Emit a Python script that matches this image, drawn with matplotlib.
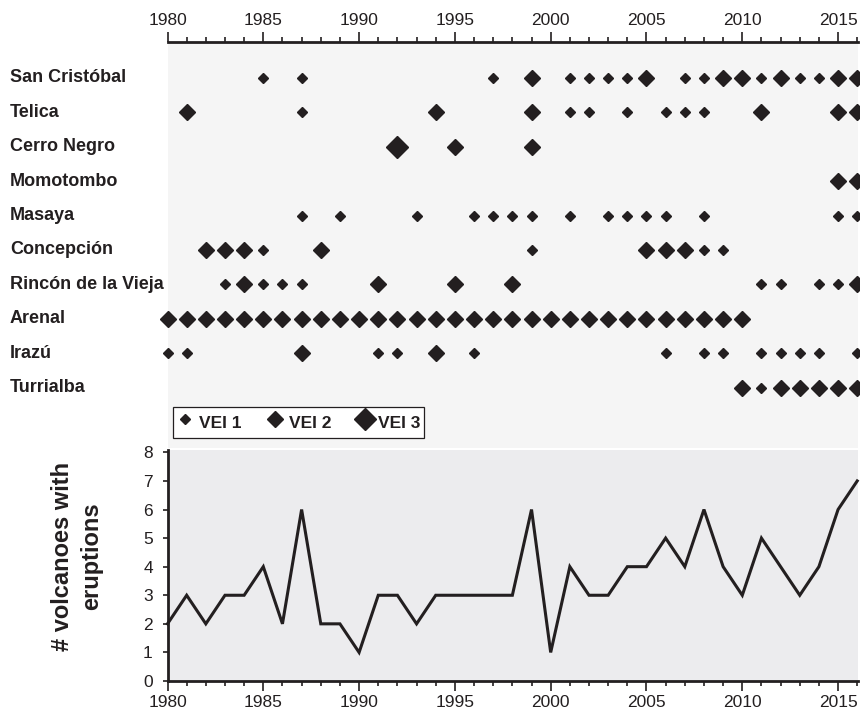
import matplotlib
matplotlib.use("Agg")
import matplotlib.pyplot as plt
from matplotlib.lines import Line2D
from matplotlib.ticker import MultipleLocator
from matplotlib.transforms import blended_transform_factory

plt.rcParams['font.family'] = ['Liberation Sans', 'DejaVu Sans']

INK = "#231f20"

# eruption years per volcano, split by VEI
volcanoes = ["San Cristóbal", "Telica", "Cerro Negro", "Momotombo", "Masaya",
             "Concepción", "Rincón de la Vieja", "Arenal", "Irazú", "Turrialba"]

vei1 = {
    "San Cristóbal": [1985, 1987, 1997, 2001, 2002, 2003, 2004, 2007, 2008, 2011, 2013, 2014],
    "Telica": [1987, 2001, 2002, 2004, 2006, 2007, 2008],
    "Cerro Negro": [],
    "Momotombo": [],
    "Masaya": [1987, 1989, 1993, 1996, 1997, 1998, 1999, 2001, 2003, 2004, 2005, 2006,
               2008, 2015, 2016],
    "Concepción": [1985, 1999, 2008, 2009],
    "Rincón de la Vieja": [1983, 1985, 1986, 1987, 2011, 2012, 2014, 2015],
    "Arenal": [],
    "Irazú": [1980, 1981, 1991, 1992, 1996, 2006, 2008, 2009, 2011, 2012, 2013, 2014, 2016],
    "Turrialba": [2011],
}
vei2 = {
    "San Cristóbal": [1999, 2005, 2009, 2010, 2012, 2015, 2016],
    "Telica": [1981, 1994, 1999, 2011, 2015, 2016],
    "Cerro Negro": [1995, 1999],
    "Momotombo": [2015, 2016],
    "Masaya": [],
    "Concepción": [1982, 1983, 1984, 1988, 2005, 2006, 2007],
    "Rincón de la Vieja": [1984, 1991, 1995, 1998, 2016],
    "Arenal": list(range(1980, 2011)),
    "Irazú": [1987, 1994],
    "Turrialba": [2010, 2012, 2013, 2014, 2015, 2016],
}
vei3 = {
    "Cerro Negro": [1992],
}

# number of volcanoes erupting each year
years = list(range(1980, 2017))
n_active = [2, 3, 2, 3, 3, 4, 2, 6, 2, 2, 1, 3, 3, 2, 3, 3, 3, 3, 3, 6, 1, 4, 3, 3,
            4, 4, 5, 4, 6, 4, 3, 5, 4, 3, 4, 6, 7]

sizes = {1: 5.6, 2: 8.2, 3: 11.2}

fig = plt.figure(figsize=(8.6, 7.11), dpi=100)
left = 167.5 / 860
width = 858 / 860 - left
ax1 = fig.add_axes([left, 1 - 448.5 / 711, width, (448.5 - 42) / 711])
ax2 = fig.add_axes([left, 1 - 681 / 711, width, (681 - 449.5) / 711])

x_hi = 2016.04

# --- eruption timeline ---
ax1.set_facecolor("#f5f5f5")
for i, name in enumerate(volcanoes):
    for vei, table in ((1, vei1), (2, vei2), (3, vei3)):
        yrs = table.get(name, [])
        if yrs:
            ax1.plot(yrs, [i] * len(yrs), linestyle="none", marker="D",
                     markersize=sizes[vei], color=INK, clip_on=False)

ax1.set_xlim(1980, x_hi)
ax1.set_ylim(10.77, -1.045)
ax1.xaxis.tick_top()
ax1.xaxis.set_major_locator(MultipleLocator(5))
ax1.xaxis.set_minor_locator(MultipleLocator(1))
ax1.tick_params(axis="x", which="major", direction="out", length=7, width=1.2,
                pad=3, labelsize=12.5, colors=INK)
ax1.tick_params(axis="x", which="minor", direction="out", length=3.6, width=1.2, color=INK)
ax1.set_yticks([])
for s in ("left", "right", "bottom"):
    ax1.spines[s].set_visible(False)
ax1.spines["top"].set_linewidth(2)
ax1.spines["top"].set_color(INK)

trans = blended_transform_factory(fig.transFigure, ax1.transData)
for i, name in enumerate(volcanoes):
    ax1.text(10 / 860, i, name, transform=trans, ha="left", va="center",
             fontsize=13, fontweight="bold", color=INK)

handles = [Line2D([], [], linestyle="none", marker="D", markersize=sizes[v], color=INK)
           for v in (1, 2, 3)]
leg = ax1.legend(handles, ["VEI 1", "VEI 2", "VEI 3"], ncol=3, loc="lower left",
                 bbox_to_anchor=(173 / 860, 1 - 438 / 711), bbox_transform=fig.transFigure,
                 borderaxespad=0, borderpad=0.2, handlelength=1.0, handletextpad=0.3,
                 columnspacing=1.42, handleheight=1.75, fancybox=False, framealpha=1,
                 prop={"size": 12.5, "weight": "bold"})
leg.get_frame().set_edgecolor(INK)
leg.get_frame().set_linewidth(0.9)
for t in leg.get_texts():
    t.set_color(INK)

# --- yearly count ---
ax2.set_facecolor("#ececee")
ax2.plot(years, n_active, color=INK, linewidth=2.2, solid_joinstyle="miter", clip_on=False)
ax2.set_xlim(1980, x_hi)
ax2.set_ylim(0, 8.1)
ax2.set_yticks(range(0, 9))
ax2.xaxis.set_major_locator(MultipleLocator(5))
ax2.xaxis.set_minor_locator(MultipleLocator(1))
ax2.tick_params(axis="x", which="major", direction="out", length=7, width=1.2,
                pad=3, labelsize=12.5, colors=INK)
ax2.tick_params(axis="x", which="minor", direction="out", length=3.6, width=1.2, color=INK)
ax2.tick_params(axis="y", direction="out", length=3.6, width=1.2, pad=7,
                labelsize=12.5, colors=INK)
for s in ("top", "right"):
    ax2.spines[s].set_visible(False)
for s in ("left", "bottom"):
    ax2.spines[s].set_linewidth(2)
    ax2.spines[s].set_color(INK)

fig.text(77 / 860, 1 - 556 / 711, "# volcanoes with\neruptions", rotation=90,
         ha="center", va="center", multialignment="center", linespacing=1.3,
         fontsize=17, fontweight="bold", color=INK)

fig.savefig("out.png", dpi=100)
